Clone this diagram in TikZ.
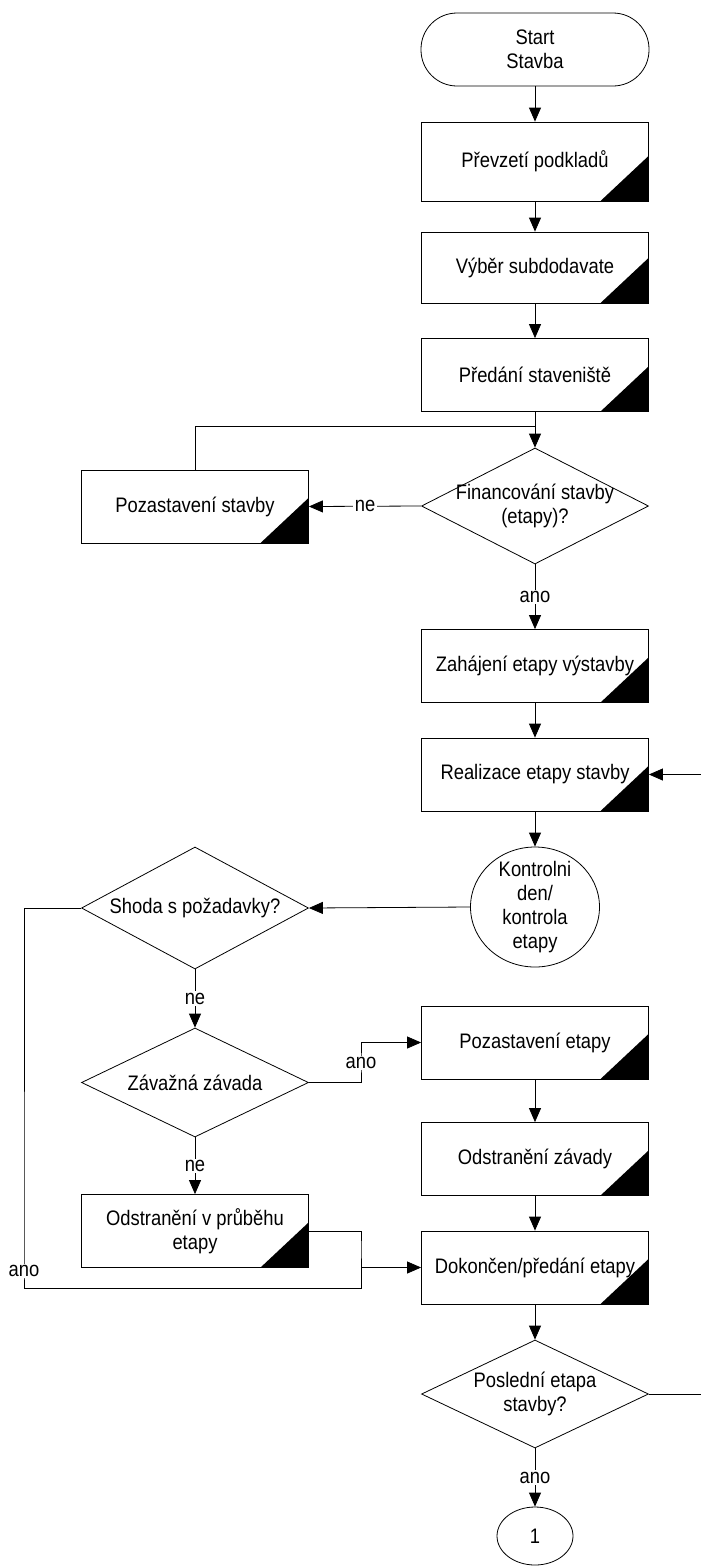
\documentclass[tikz,border=0pt]{standalone}
\usepackage{fontspec}
\setmainfont[FakeStretch=0.875]{Liberation Sans}
\usetikzlibrary{shapes.geometric,arrows.meta}

\begin{document}
\begin{tikzpicture}[
          x=1pt, y=-1pt,
          font=\fontsize{21}{24}\selectfont,
          line width=0.8pt,
          >={Triangle[length=14pt,width=12pt]},
          block/.style = {draw, rectangle, minimum width=227pt, minimum height=73pt, align=center, inner sep=2pt,
            path picture={\fill ([xshift=-48pt]path picture bounding box.south east)
              -- ([yshift=45pt]path picture bounding box.south east)
              -- (path picture bounding box.south east) -- cycle;}},
          decision/.style = {draw, diamond, minimum width=227pt, inner sep=0pt},
          terminal/.style = {draw, rectangle, rounded corners=36pt, minimum width=228pt, minimum height=73pt, align=center},
          check/.style = {draw, ellipse, inner sep=0pt, align=center},
          answer/.style = {fill=white, inner sep=1.5pt}
        ]
        \useasboundingbox (0,0) rectangle (701,1567);

        \node[terminal] (start) at (535,49.5) {Start\\Stavba};
        \node[block, minimum height=79pt] (prevzeti) at (535,161.5) {Převzetí podkladů};
        \node[block, minimum height=71pt] (vyber) at (535,267.5) {Výběr subdodavate};
        \node[block] (predani) at (535,375) {Předání staveniště};
        \node[decision, minimum height=116pt, label={[align=center]center:Financování stavby\\(etapy)?}] (financ) at (535,506) {};
        \node[block] (pozstav) at (195,506.5) {Pozastavení stavby};
        \node[block] (zahajeni) at (535,666) {Zahájení etapy výstavby};
        \node[block] (realizace) at (535,774.5) {Realizace etapy stavby};
        \node[check, minimum width=129pt, minimum height=120pt, label={[align=center]center:Kontrolni\\den/\\kontrola\\etapy}] (kontrola) at (535,907) {};
        \node[decision, minimum height=122pt, label={center:Shoda s požadavky?}] (shoda) at (195,908) {};
        \node[decision, minimum height=109pt, label={center:Závažná závada}] (zavada) at (195,1082.5) {};
        \node[block] (pozetapy) at (535,1042.5) {Pozastavení etapy};
        \node[block] (odstrzav) at (535,1159) {Odstranění závady};
        \node[block] (odstrprub) at (195,1231) {Odstranění v průběhu\\etapy};
        \node[block] (dokonceni) at (535,1267.5) {Dokončen/předání etapy};
        \node[decision, minimum height=108pt, label={[align=center]center:Poslední etapa\\stavby?}] (posledni) at (535,1394) {};
        \node[check, minimum width=76pt, minimum height=58pt] (konec) at (535,1536) {1};

        \coordinate (navrat) at (535,426);
        \coordinate (ohybano) at (361,1063);
        \coordinate (ohybprub) at (361,1250);
        \coordinate (vlevo) at (24,1271);
        \coordinate (dole) at (361,1288);
        \coordinate (vpravo) at (712,1100);

        \draw[->] (start) -- (prevzeti);
        \draw[->] (prevzeti) -- (vyber);
        \draw[->] (vyber) -- (predani);
        \draw[->] (predani) -- (financ);
        \draw (pozstav.north) |- (navrat);
        \draw[->] (financ.west) -- node[answer] {ne} (pozstav.east);
        \draw[->] (financ.south) -- node[answer] {ano} (zahajeni.north);
        \draw[->] (zahajeni) -- (realizace);
        \draw[->] (realizace) -- (kontrola);
        \draw[->] (kontrola.west) -- (shoda.east);
        \draw[->] (shoda.south) -- node[answer] {ne} (zavada.north);
        \draw[->] (zavada.east) -| (ohybano) node[answer] {ano} |- (pozetapy.west);
        \draw[->] (zavada.south) -- node[answer] {ne} (odstrprub.north);
        \draw[->] (pozetapy) -- (odstrzav);
        \draw[->] (odstrzav) -- (dokonceni);
        \draw[->] (odstrprub.east) -| (ohybprub) |- (dokonceni.west);
        \draw (shoda.west) -| (vlevo) node[answer] {ano} |- (dole) -- (ohybprub |- dokonceni.west);
        \draw[->] (dokonceni) -- (posledni);
        \draw[->] (posledni.south) -- node[answer] {ano} (konec.north);
        \draw[->] (posledni.east) -| (vpravo) |- (realizace.east);
      \end{tikzpicture}
\end{document}
